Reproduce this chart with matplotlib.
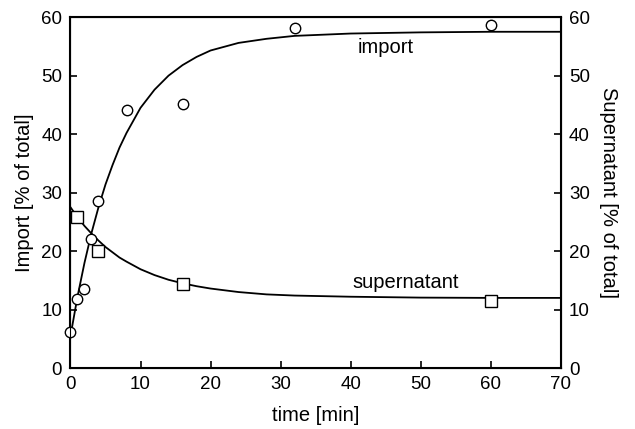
import matplotlib
matplotlib.use("Agg")
import matplotlib.pyplot as plt

plt.rcParams["font.family"] = ["Liberation Sans", "DejaVu Sans"]

# measured points
import_time = [0, 1, 2, 3, 4, 8, 16, 32, 60]
import_pct = [6.2, 11.8, 13.5, 22.1, 28.5, 44.2, 45.2, 58.2, 58.6]

super_time = [1, 4, 16, 60]
super_pct = [25.8, 20.0, 14.4, 11.5]

# fitted curves
curve_time = [0, 1, 2, 3, 4, 5, 6, 7, 8, 10, 12, 14, 16, 18, 20, 24, 28, 32, 40, 50, 60, 70]
import_fit = [5.5, 12.2, 18.0, 23.1, 27.5, 31.4, 34.7, 37.7, 40.2, 44.5, 47.6, 50.0,
              51.8, 53.2, 54.3, 55.6, 56.3, 56.8, 57.2, 57.4, 57.5, 57.5]
super_fit = [27.5, 25.8, 24.3, 23.0, 21.8, 20.7, 19.8, 18.9, 18.2, 16.9, 15.9, 15.1,
             14.5, 14.0, 13.6, 13.0, 12.6, 12.4, 12.2, 12.05, 12.0, 12.0]

x_ticks = [0, 10, 20, 30, 40, 50, 60, 70]
y_ticks = [0, 10, 20, 30, 40, 50, 60]


def main() -> None:
    fig = plt.figure(figsize=(6.35, 4.29), dpi=100)
    ax = fig.add_axes([0.111, 0.142, 0.772, 0.818])

    ax.plot(curve_time, import_fit, color="black", lw=1.3, zorder=2)
    ax.plot(curve_time, super_fit, color="black", lw=1.3, zorder=2)
    ax.plot(import_time, import_pct, "o", ms=7.5, mfc="white", mec="black", mew=1.0,
            zorder=3, clip_on=False)
    ax.plot(super_time, super_pct, "s", ms=8.5, mfc="white", mec="black", mew=1.0,
            zorder=3, clip_on=False)

    ax.text(45, 54.8, "import", fontsize=14.5, ha="center", va="center")
    ax.text(47.8, 14.6, "supernatant", fontsize=14.5, ha="center", va="center")

    ax.set_xlim(0, 70)
    ax.set_ylim(0, 60)
    ax.set_xticks(x_ticks)
    ax.set_yticks(y_ticks)
    ax.tick_params(direction="in", length=5, width=1.2, labelsize=13.5, top=False, pad=6)
    for spine in ax.spines.values():
        spine.set_linewidth(1.5)

    ax.set_xlabel("time [min]", fontsize=14.5, labelpad=9)
    ax.set_ylabel("Import [% of total]", fontsize=14.5, labelpad=5)

    ax2 = ax.twinx()
    ax2.set_ylim(0, 60)
    ax2.set_yticks(y_ticks)
    ax2.tick_params(direction="in", length=5, width=1.2, labelsize=13.5, pad=6)
    ax2.set_ylabel("Supernatant [% of total]", fontsize=14.5, rotation=270, labelpad=20)

    fig.savefig("out.png", dpi=100)
    plt.close(fig)


if __name__ == "__main__":
    main()
